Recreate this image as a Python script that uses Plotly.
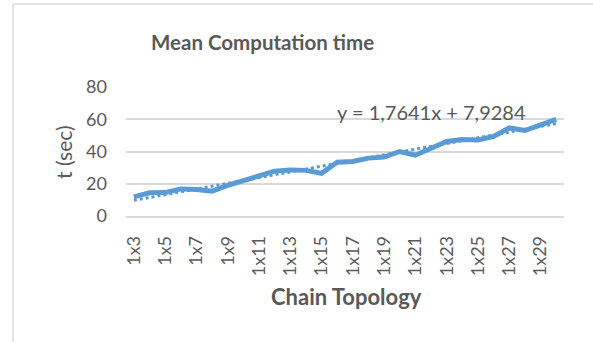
import plotly.graph_objects as go

categories = ["1x%d" % n for n in range(3, 31)]
mean_time = [11.9, 14.4, 14.5, 16.8, 16.4, 15.4, 19.0, 21.7, 24.6, 27.8, 28.6, 28.3,
             26.5, 33.4, 33.8, 35.9, 36.5, 40.0, 37.7, 42.3, 46.2, 47.4, 47.2, 49.4,
             54.6, 53.0, 56.8, 59.9]
trend_slope = 1.7641
trend_intercept = 7.9284
trend_label = "y = 1,7641x + 7,9284"
y_ticks = [0, 20, 40, 60, 80]

trend_vals = [trend_slope * (i + 1) + trend_intercept for i in range(len(categories))]

blue = "#5b9bd5"
grey_txt = "#595959"
grid = "#d9d9d9"
font_fam = "Lato, 'Open Sans', sans-serif"

fig = go.Figure()
fig.add_trace(go.Scatter(x=categories, y=mean_time, mode="lines",
                         line=dict(color=blue, width=5), showlegend=False))
fig.add_trace(go.Scatter(x=categories, y=trend_vals, mode="lines",
                         line=dict(color=blue, width=3, dash="dot"), showlegend=False))

W, H = 593, 342
L, R, T, B = 126, 29, 87, 126
pw, ph = W - L - R, H - T - B

def px(x):
    return (x - L) / pw

def py(y):
    return (H - B - y) / ph

fig.update_layout(
    width=W, height=H,
    margin=dict(l=L, r=R, t=T, b=B),
    paper_bgcolor="white", plot_bgcolor="white",
    font=dict(family=font_fam, color=grey_txt),
    xaxis=dict(type="category", range=[-0.5, len(categories) - 0.5],
               tickvals=categories[::2], ticktext=categories[::2],
               tickangle=-90, tickfont=dict(size=18, color=grey_txt),
               showgrid=False, showline=True, linecolor=grid, linewidth=1.5,
               ticks="", zeroline=False, ticklabelstandoff=11),
    yaxis=dict(range=[0, 80], tickvals=y_ticks, showgrid=True, gridcolor=grid,
               gridwidth=1.5, zeroline=False, showline=False, ticks="",
               tickfont=dict(size=18, color=grey_txt), ticklabelstandoff=18),
    annotations=[
        dict(text="<b>Mean Computation time</b>", xref="paper", yref="paper",
             x=px(262), y=py(42), xanchor="center", yanchor="middle", showarrow=False,
             font=dict(size=20.5, color=grey_txt)),
        dict(text=trend_label, xref="paper", yref="paper",
             x=px(431), y=py(112), xanchor="center", yanchor="middle", showarrow=False,
             font=dict(size=20, color=grey_txt)),
        dict(text="<b>Chain Topology</b>", xref="paper", yref="paper",
             x=px(346), y=py(296), xanchor="center", yanchor="middle", showarrow=False,
             font=dict(size=22, color=grey_txt)),
        dict(text="t (sec)", xref="paper", yref="paper", textangle=-90,
             x=px(63), y=py(152), xanchor="center", yanchor="middle", showarrow=False,
             font=dict(size=21, color=grey_txt)),
    ],
    shapes=[
        dict(type="line", xref="paper", yref="paper", x0=px(13), x1=px(600), y0=py(4), y1=py(4),
             line=dict(color=grid, width=1.5)),
        dict(type="line", xref="paper", yref="paper", x0=px(13), x1=px(13), y0=py(4), y1=py(350),
             line=dict(color=grid, width=1.5)),
    ],
)

fig.write_html("out.html", config={"displayModeBar": False},
               post_script="document.body.style.margin='0';")
